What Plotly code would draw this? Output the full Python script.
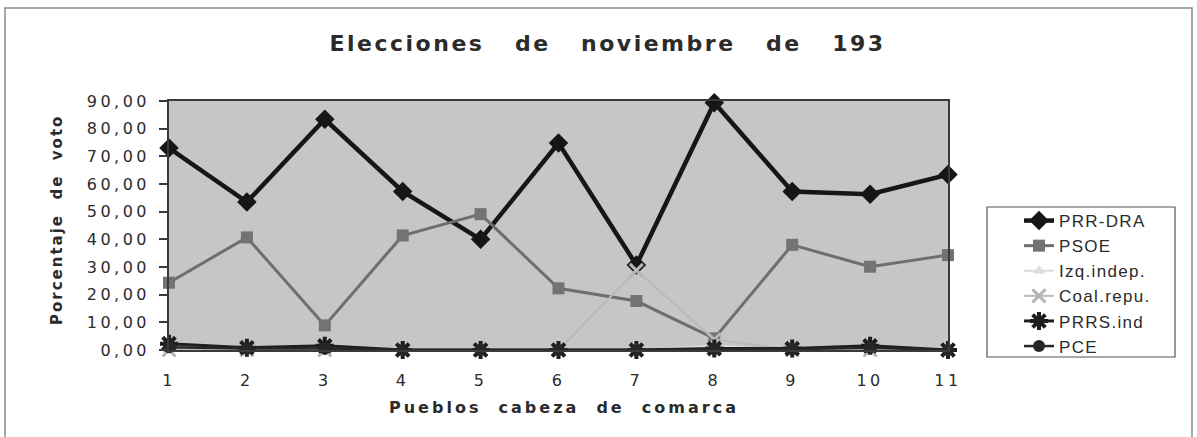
import plotly.graph_objects as go

# Towns (cabeza de comarca) numbered 1..11
pueblos = [1, 2, 3, 4, 5, 6, 7, 8, 9, 10, 11]

# Vote share (%) per party
prr_dra = [73.0, 53.5, 83.4, 57.3, 40.0, 74.8, 30.7, 89.4, 57.3, 56.3, 63.4]
psoe = [24.3, 40.7, 8.9, 41.4, 49.1, 22.3, 17.7, 4.2, 38.0, 30.1, 34.3]
izq_indep = [0.0, 0.0, 0.3, 0.0, 0.0, 0.0, 0.0, 1.5, 0.0, 0.0, 0.0]
coal_repu = [0.0, 0.0, 0.0, 0.0, 0.0, 0.0, 28.8, 3.8, 0.0, 0.0, 0.0]
prrs_ind = [2.3, 0.8, 1.5, 0.0, 0.0, 0.0, 0.0, 0.5, 0.5, 1.5, 0.0]
pce = [1.0, 0.5, 0.5, 0.0, 0.0, 0.0, 0.0, 0.3, 0.3, 0.8, 0.0]

y_ticks = [0, 10, 20, 30, 40, 50, 60, 70, 80, 90]
y_tick_labels = ["0,00", "10,00", "20,00", "30,00", "40,00",
                 "50,00", "60,00", "70,00", "80,00", "90,00"]

W, H = 1197, 437
L, R, T, B = 169, 249, 101, 87
PW, PH = W - L - R, H - T - B


def px_x(px):
    return (px - L) / PW


def px_y(py):
    return (H - B - py) / PH


TXT = "#2b2b2b"
series = [
    ("PRR-DRA", prr_dra, dict(color="#161616", width=4.5),
     dict(symbol="diamond", size=15, color="#161616")),
    ("PSOE", psoe, dict(color="#6e6e6e", width=3),
     dict(symbol="square", size=12, color="#737373")),
    ("Izq.indep.", izq_indep, dict(color="#dcdcdc", width=2),
     dict(symbol="triangle-up", size=11, color="#dedede")),
    ("Coal.repu.", coal_repu, dict(color="#b9b9b9", width=2),
     dict(symbol="x-thin", size=13, color="#b5b5b5",
          line=dict(color="#b5b5b5", width=3))),
    ("PRRS.ind", prrs_ind, dict(color="#1e1e1e", width=3),
     dict(symbol="asterisk", size=15, color="#1e1e1e",
          line=dict(color="#1e1e1e", width=4))),
    ("PCE", pce, dict(color="#262626", width=2.5),
     dict(symbol="circle", size=12, color="#262626")),
]

fig = go.Figure()
for name, vals, ln, mk in series:
    fig.add_trace(go.Scatter(
        x=pueblos, y=vals, name=name, mode="lines+markers",
        line=ln, marker=mk, cliponaxis=False, legendgroup=name,
    ))

fig.update_layout(
    width=W, height=H,
    margin=dict(l=L, r=R, t=T, b=B, pad=0),
    paper_bgcolor="white",
    plot_bgcolor="#c6c6c6",
    showlegend=True,
    legend=dict(
        x=px_x(1019), y=px_y(203), xanchor="left", yanchor="top",
        bgcolor="rgba(0,0,0,0)", borderwidth=0,
        font=dict(family="Liberation Sans, Arial", size=17, color=TXT),
        tracegroupgap=0, itemwidth=30,
    ),
    xaxis=dict(
        range=[1, 11], tickmode="array", tickvals=pueblos,
        showgrid=False, zeroline=False,
        showline=True, linecolor="#3a3a3a", linewidth=2, mirror=True,
        ticks="outside", ticklen=10, tickcolor="rgba(0,0,0,0)",
        ticklabelstandoff=5,
        tickfont=dict(family="DejaVu Sans", size=16, color=TXT),
    ),
    yaxis=dict(
        range=[0, 90], tickmode="array", tickvals=y_ticks,
        ticktext=y_tick_labels,
        showgrid=False, zeroline=False,
        showline=True, linecolor="#3a3a3a", linewidth=1.5, mirror=True,
        ticks="outside", ticklen=8, tickcolor="#3a3a3a", tickwidth=1.5,
        ticklabelstandoff=6,
        tickfont=dict(family="DejaVu Sans", size=16, color=TXT),
    ),
    annotations=[
        dict(text="Elecciones\u00a0\u00a0 de\u00a0\u00a0 noviembre\u00a0\u00a0 de\u00a0\u00a0 193",
             x=px_x(607), y=px_y(43), xref="paper", yref="paper",
             xanchor="center", yanchor="middle", showarrow=False,
             font=dict(family="DejaVu Sans", size=22, color=TXT, weight="bold")),
        dict(text="Pueblos\u00a0 cabeza\u00a0 de\u00a0 comarca",
             x=px_x(564), y=px_y(407), xref="paper", yref="paper",
             xanchor="center", yanchor="middle", showarrow=False,
             font=dict(family="DejaVu Sans", size=16, color=TXT, weight="bold")),
        dict(text="Porcentaje\u00a0 de\u00a0 voto", textangle=-90,
             x=px_x(57), y=px_y(220), xref="paper", yref="paper",
             xanchor="center", yanchor="middle", showarrow=False,
             font=dict(family="DejaVu Sans", size=15, color=TXT, weight="bold")),
    ],
    shapes=[
        # outer chart frame
        dict(type="rect", xref="paper", yref="paper",
             x0=px_x(5), x1=px_x(1192), y0=px_y(445), y1=px_y(8),
             line=dict(color="#8a8a8a", width=1.5), fillcolor="rgba(0,0,0,0)"),
        # legend frame
        dict(type="rect", xref="paper", yref="paper",
             x0=px_x(987), x1=px_x(1175), y0=px_y(357), y1=px_y(207),
             line=dict(color="#555555", width=1.2), fillcolor="rgba(0,0,0,0)"),
    ],
)

post = """
var gd = document.getElementById('{plot_id}');
function spaceText(){
  gd.querySelectorAll('.xtick text, .ytick text').forEach(function(t){t.style.letterSpacing='3.5px';});
  gd.querySelectorAll('.legendtext').forEach(function(t){t.style.letterSpacing='1.3px';});
  gd.querySelectorAll('.legend [clip-path]').forEach(function(e){e.removeAttribute('clip-path');});
  var ann = gd.querySelectorAll('.annotation-text');
  if (ann[0]) ann[0].style.letterSpacing='2.5px';
  if (ann[1]) ann[1].style.letterSpacing='3px';
  if (ann[2]) ann[2].style.letterSpacing='2px';
}
spaceText();
gd.on('plotly_afterplot', spaceText);
setTimeout(spaceText, 50);
"""

fig.write_html("out.html", post_script=post)
